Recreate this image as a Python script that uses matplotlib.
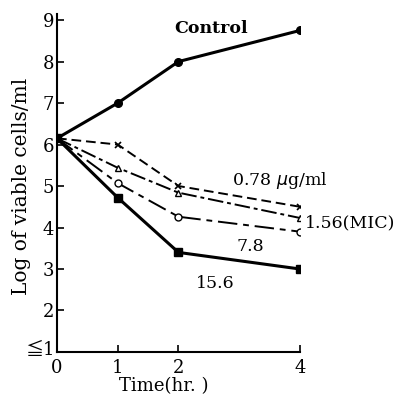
import numpy as np
import matplotlib.pyplot as plt
from matplotlib.transforms import ScaledTranslation

plt.rcParams['font.family'] = ['DejaVu Serif', 'Noto Sans CJK JP']

time = [0, 1, 2, 4]
control = [6.15, 7.0, 8.0, 8.75]
c078 = [6.15, 6.0, 5.0, 4.5]
c156 = [6.15, 5.44, 4.84, 4.23]
c78 = [6.15, 5.07, 4.26, 3.9]
c156x = [6.15, 4.72, 3.4, 3.0]

yticks = [1, 2, 3, 4, 5, 6, 7, 8, 9]
ylabels = ['≦1', '2', '3', '4', '5', '6', '7', '8', '9']
xticks = [0, 1, 2, 4]

fig = plt.figure(figsize=(4.05, 4.03), dpi=100)
ax = fig.add_axes([0.1407, 0.1266, 0.6, 0.839])

ax.plot(time, control, '-', color='black', lw=2.2, marker='o', ms=5.5)
ax.plot(time, c078, color='black', lw=1.4, ls=(0, (5, 2.5)), marker='x', ms=4.5, mew=1.2)
ax.plot(time, c156, color='black', lw=1.4, ls=(0, (8, 2, 2, 2)), marker='^', ms=5,
        mfc='white', mew=1)
ax.plot(time, c78, color='black', lw=1.4, ls=(0, (10, 3, 3, 3)), marker='o', ms=5,
        mfc='white', mew=1)
ax.plot(time, c156x, '-', color='black', lw=2.2, marker='s', ms=5.5)

ax.text(2.54, 8.8, 'Control', fontsize=12.5, fontweight='bold', ha='center', va='center')
ax.text(3.67, 5.14, '0.78 $\\mu$g/ml', fontsize=12.5, ha='center', va='center')
ax.text(4.08, 4.11, '1.56(MIC)', fontsize=12.5, ha='left', va='center')
ax.text(3.18, 3.54, '7.8', fontsize=12.5, ha='center', va='center')
ax.text(2.6, 2.66, '15.6', fontsize=12.5, ha='center', va='center')

ax.set_xlim(0, 4)
ax.set_ylim(1, 9.15)
ax.set_xticks(xticks)
ax.set_yticks(yticks)
ax.set_yticklabels(ylabels)
ax.tick_params(direction='in', length=5, width=1.2, labelsize=13, pad=2)
ax.tick_params(axis='x', pad=5)
lab1 = ax.get_yticklabels()[0]
lab1.set_transform(lab1.get_transform() + ScaledTranslation(0, 3 / 72, fig.dpi_scale_trans))
ax.spines['top'].set_visible(False)
ax.spines['right'].set_visible(False)
ax.spines['left'].set_linewidth(1.5)
ax.spines['bottom'].set_linewidth(1.5)

ax.set_xlabel('Time(hr. )', fontsize=13)
ax.xaxis.set_label_coords(0.44, -0.075)
ax.set_ylabel('Log of viable cells/ml', fontsize=14.5)
ax.yaxis.set_label_coords(-0.105, 0.49)

fig.savefig('out.png', dpi=100)
